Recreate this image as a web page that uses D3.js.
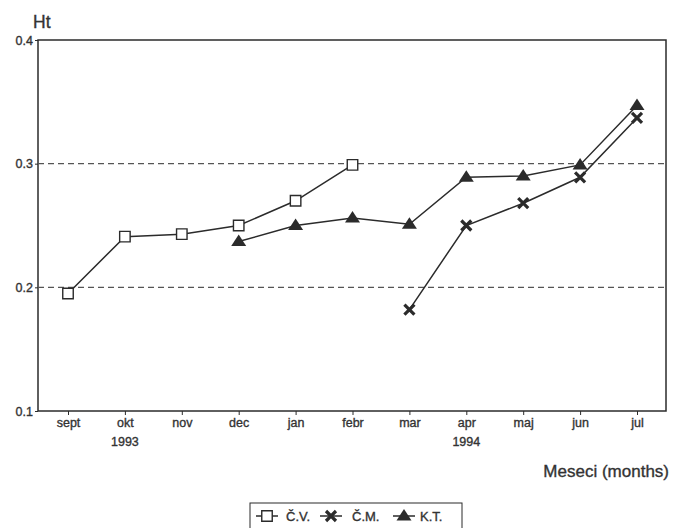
<!DOCTYPE html>
<html>
<head>
<meta charset="utf-8">
<script src="https://cdn.jsdelivr.net/npm/d3@7"></script>
<style>
  html, body { margin: 0; padding: 0; background: #fff; }
  svg { display: block; font-family: "Liberation Sans", Arial, sans-serif; }
  svg text { fill: #333; stroke: #333; stroke-width: 0.35px; }
</style>
</head>
<body>
<svg id="chart" width="673" height="528"></svg>
<script>
// Months of the observation period (Sept 1993 – July 1994)
const months = ["sept", "okt", "nov", "dec", "jan", "febr", "mar", "apr", "maj", "jun", "jul"];
const yearLabels = [{ month: "okt", year: "1993" }, { month: "apr", year: "1994" }];
const yTicks = [0.1, 0.2, 0.3, 0.4];
const gridValues = [0.2, 0.3];

// Ht values per month for each site
const cvMonths = ["sept", "okt", "nov", "dec", "jan", "febr"];
const cvValues = [0.195, 0.241, 0.243, 0.250, 0.270, 0.299];
const cmMonths = ["mar", "apr", "maj", "jun", "jul"];
const cmValues = [0.182, 0.250, 0.268, 0.289, 0.337];
const ktMonths = ["dec", "jan", "febr", "mar", "apr", "maj", "jun", "jul"];
const ktValues = [0.237, 0.250, 0.256, 0.251, 0.289, 0.290, 0.299, 0.347];

const svg = d3.select("#chart");
const ink = "#2b2b2b";

const plotLeft = 38, plotRight = 666, plotTop = 40, plotBottom = 411;

const x = d3.scalePoint().domain(months).range([68, 637]);
const y = d3.scaleLinear().domain([0.1, 0.4]).range([plotBottom, plotTop]);

// frame
svg.append("rect")
  .attr("x", plotLeft).attr("y", plotTop)
  .attr("width", plotRight - plotLeft).attr("height", plotBottom - plotTop)
  .attr("fill", "none").attr("stroke", ink).attr("stroke-width", 1.5);

// dashed reference lines
svg.selectAll("line.grid").data(gridValues).join("line")
  .attr("class", "grid")
  .attr("x1", plotLeft).attr("x2", plotRight)
  .attr("y1", d => y(d)).attr("y2", d => y(d))
  .attr("stroke", "#555").attr("stroke-width", 1.3)
  .attr("stroke-dasharray", "6,4");

// y axis
const yAxis = svg.append("g")
  .attr("transform", `translate(${plotLeft},0)`)
  .call(d3.axisLeft(y).tickValues(yTicks).tickFormat(d3.format(".1f")).tickSize(3).tickPadding(2));
yAxis.select(".domain").remove();
yAxis.selectAll("line").attr("stroke", ink);
yAxis.selectAll("text").attr("font-size", 12.5).attr("font-family", "Liberation Sans, Arial, sans-serif");

// x axis
const xAxis = svg.append("g")
  .attr("transform", `translate(0,${plotBottom})`)
  .call(d3.axisBottom(x).tickSize(4).tickPadding(3));
xAxis.select(".domain").remove();
xAxis.selectAll("line").attr("stroke", ink);
xAxis.selectAll("text").attr("font-size", 12.5).attr("font-family", "Liberation Sans, Arial, sans-serif");

// year labels under okt and apr
svg.selectAll("text.year").data(yearLabels).join("text")
  .attr("class", "year")
  .attr("x", d => x(d.month)).attr("y", 446)
  .attr("text-anchor", "middle")
  .attr("font-size", 12.5)
  .text(d => d.year);

// axis titles
svg.append("text").attr("x", 33).attr("y", 28)
  .attr("font-size", 17.5).text("Ht");
svg.append("text").attr("x", 669).attr("y", 477)
  .attr("text-anchor", "end")
  .attr("font-size", 17).text("Meseci (months)");

const line = d3.line().x(d => x(d[0])).y(d => y(d[1]));

function drawSeries(ms, vs) {
  const pts = ms.map((m, i) => [m, vs[i]]);
  svg.append("path").datum(pts)
    .attr("d", line)
    .attr("fill", "none").attr("stroke", ink).attr("stroke-width", 1.5);
  return pts;
}

// marker shapes, centred on the origin
const squarePath = d3.symbol().type(d3.symbolSquare).size(110)();
const crossPath = "M-5,-5L5,5M-5,5L5,-5";
const triPath = "M0,-7L7.5,4.5L-7.5,4.5Z";

const cvPts = drawSeries(cvMonths, cvValues);
const cmPts = drawSeries(cmMonths, cmValues);
const ktPts = drawSeries(ktMonths, ktValues);

svg.selectAll("path.kt").data(ktPts).join("path")
  .attr("class", "kt")
  .attr("transform", d => `translate(${x(d[0])},${y(d[1])})`)
  .attr("d", triPath).attr("fill", ink);

svg.selectAll("path.cm").data(cmPts).join("path")
  .attr("class", "cm")
  .attr("transform", d => `translate(${x(d[0])},${y(d[1])})`)
  .attr("d", crossPath).attr("fill", "none").attr("stroke", ink).attr("stroke-width", 3.2);

svg.selectAll("path.cv").data(cvPts).join("path")
  .attr("class", "cv")
  .attr("transform", d => `translate(${x(d[0])},${y(d[1])})`)
  .attr("d", squarePath).attr("fill", "#fff").attr("stroke", ink).attr("stroke-width", 1.4);

// legend
const legend = svg.append("g");
legend.append("rect")
  .attr("x", 250).attr("y", 503).attr("width", 212).attr("height", 40)
  .attr("fill", "#fff").attr("stroke", ink).attr("stroke-width", 1);

const legendItems = [
  { label: "Č.V.", d: squarePath, fill: "#fff", sw: 1.4, lx: 256, tx: 286 },
  { label: "Č.M.", d: crossPath, fill: "none", sw: 3.2, lx: 320, tx: 352 },
  { label: "K.T.", d: triPath, fill: ink, sw: 0, lx: 393, tx: 420 }
];
const ly = 516;
legendItems.forEach(it => {
  legend.append("line")
    .attr("x1", it.lx).attr("x2", it.lx + 22)
    .attr("y1", ly).attr("y2", ly)
    .attr("stroke", ink).attr("stroke-width", 1.5);
  legend.append("path")
    .attr("transform", `translate(${it.lx + 11},${ly})`)
    .attr("d", it.d).attr("fill", it.fill).attr("stroke", ink).attr("stroke-width", it.sw);
  legend.append("text")
    .attr("x", it.tx).attr("y", ly + 5)
    .attr("font-size", 13).text(it.label);
});
</script>
</body>
</html>
